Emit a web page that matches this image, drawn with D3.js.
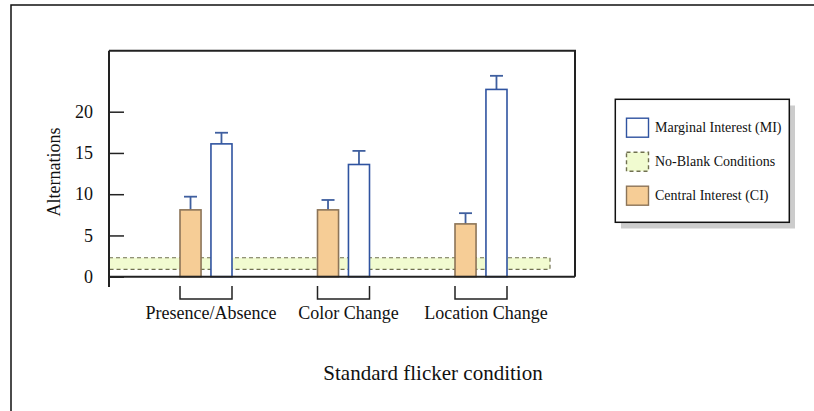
<!DOCTYPE html>
<html lang="en">
<head>
    <meta charset="UTF-8">
    <title>Alternations by flicker condition</title>
    <script src="https://d3js.org/d3.v7.min.js"></script>
    <style>
        body { margin: 0; background: #fff; }
        svg { display: block; }
        text { font-family: "Liberation Serif", "Times New Roman", serif; fill: #111; }
    </style>
</head>
<body>
    <div id="chart"></div>

    <script>
        // Data
        const categories = ["Presence/Absence", "Color Change", "Location Change"];
        const ciValues = [8.1, 8.1, 6.4];
        const ciErrors = [1.6, 1.2, 1.3];
        const miValues = [16.1, 13.6, 22.7];
        const miErrors = [1.35, 1.65, 1.65];
        const noBlankBand = [0.9, 2.3];
        const yTicks = [0, 5, 10, 15, 20];
        const legendLabels = ["Marginal Interest (MI)", "No-Blank Conditions", "Central Interest (CI)"];

        const width = 814, height = 411;

        const svg = d3.select("#chart")
            .append("svg")
            .attr("width", width)
            .attr("height", height);

        // outer border (runs off the page on the right / bottom)
        svg.append("rect")
            .attr("x", 11).attr("y", 5)
            .attr("width", 820).attr("height", 420)
            .attr("fill", "none")
            .attr("stroke", "#111")
            .attr("stroke-width", 1.5);

        // plot frame
        const plot = { left: 109, right: 575, top: 50.7, bottom: 276.7 };

        const y = d3.scaleLinear()
            .domain([0, 20])
            .range([plot.bottom, 111.7]);

        const x = d3.scalePoint()
            .domain(categories)
            .range([206, 481]);

        const inner = d3.scaleBand()
            .domain(["CI", "MI"])
            .range([-26, 26])
            .paddingInner(0.32);

        // no-blank band (behind bars)
        svg.append("rect")
            .attr("x", plot.left)
            .attr("y", y(noBlankBand[1]))
            .attr("width", 550 - plot.left)
            .attr("height", y(noBlankBand[0]) - y(noBlankBand[1]))
            .attr("fill", "#f1fbd0")
            .attr("stroke", "#707050")
            .attr("stroke-width", 1.2)
            .attr("stroke-dasharray", "4,3");

        // frame: top and right
        svg.append("path")
            .attr("d", `M${plot.left},${plot.top}H${plot.right}V${plot.bottom}`)
            .attr("fill", "none")
            .attr("stroke", "#222")
            .attr("stroke-width", 2);

        // y axis with inward ticks
        const yAxis = svg.append("g")
            .attr("transform", `translate(${plot.left},0)`)
            .call(d3.axisLeft(y).tickValues(yTicks).tickSizeInner(-15).tickSizeOuter(0).tickPadding(16));
        yAxis.select(".domain").remove();
        yAxis.selectAll(".tick line").attr("stroke", "#222").attr("stroke-width", 1.5);
        yAxis.selectAll(".tick text")
            .style("font-family", "'Liberation Serif', serif")
            .style("font-size", "18px")
            .attr("fill", "#111");

        svg.append("line")
            .attr("x1", plot.left).attr("x2", plot.left)
            .attr("y1", plot.top).attr("y2", 287)
            .attr("stroke", "#222").attr("stroke-width", 2);

        // series
        const series = [
            { key: "CI", values: ciValues, errors: ciErrors, fill: "#f6cd96", stroke: "#8c7458" },
            { key: "MI", values: miValues, errors: miErrors, fill: "#ffffff", stroke: "#2f53a0" }
        ];
        const errColor = "#3f5f9f";

        series.forEach(s => {
            const g = svg.append("g");
            const rows = categories.map((c, i) => ({ c, v: s.values[i], e: s.errors[i] }));

            // error bars
            g.selectAll("line.err")
                .data(rows)
                .join("line")
                .attr("class", "err")
                .attr("x1", d => x(d.c) + inner(s.key) + inner.bandwidth() / 2)
                .attr("x2", d => x(d.c) + inner(s.key) + inner.bandwidth() / 2)
                .attr("y1", d => y(d.v))
                .attr("y2", d => y(d.v + d.e))
                .attr("stroke", errColor).attr("stroke-width", 1.8);
            g.selectAll("line.cap")
                .data(rows)
                .join("line")
                .attr("class", "cap")
                .attr("x1", d => x(d.c) + inner(s.key) + inner.bandwidth() / 2 - 6.5)
                .attr("x2", d => x(d.c) + inner(s.key) + inner.bandwidth() / 2 + 6.5)
                .attr("y1", d => y(d.v + d.e))
                .attr("y2", d => y(d.v + d.e))
                .attr("stroke", errColor).attr("stroke-width", 1.8);

            g.selectAll("rect")
                .data(rows)
                .join("rect")
                .attr("x", d => x(d.c) + inner(s.key))
                .attr("y", d => y(d.v))
                .attr("width", inner.bandwidth())
                .attr("height", d => y(0) - y(d.v))
                .attr("fill", s.fill)
                .attr("stroke", s.stroke)
                .attr("stroke-width", 1.6);
        });

        // x axis line (bottom of frame)
        svg.append("line")
            .attr("x1", plot.left).attr("x2", plot.right)
            .attr("y1", plot.bottom).attr("y2", plot.bottom)
            .attr("stroke", "#222").attr("stroke-width", 2);

        // brackets under groups
        svg.selectAll("path.bracket")
            .data(categories)
            .join("path")
            .attr("class", "bracket")
            .attr("d", c => {
                const x0 = x(c) + inner("CI"), x1 = x(c) + inner("MI") + inner.bandwidth();
                return `M${x0},286V299H${x1}V286`;
            })
            .attr("fill", "none")
            .attr("stroke", "#222")
            .attr("stroke-width", 1.5);

        svg.selectAll("text.cat")
            .data(categories)
            .join("text")
            .attr("class", "cat")
            .attr("x", c => x(c) + 5)
            .attr("y", 319)
            .attr("text-anchor", "middle")
            .style("font-size", "18px")
            .text(c => c);

        // axis titles
        svg.append("text")
            .attr("transform", "translate(60,172) rotate(-90)")
            .attr("text-anchor", "middle")
            .style("font-size", "18px")
            .text("Alternations");

        svg.append("text")
            .attr("x", 433)
            .attr("y", 380)
            .attr("text-anchor", "middle")
            .style("font-size", "21px")
            .text("Standard flicker condition");

        // legend
        const legend = svg.append("g");
        legend.append("rect")
            .attr("x", 621).attr("y", 105.5)
            .attr("width", 174).attr("height", 123)
            .attr("fill", "#cccccc");
        legend.append("rect")
            .attr("x", 615.3).attr("y", 99.3)
            .attr("width", 174).attr("height", 123)
            .attr("fill", "#fff")
            .attr("stroke", "#111")
            .attr("stroke-width", 1.5);

        const swatches = [
            { fill: "#ffffff", stroke: "#2f53a0", dash: null },
            { fill: "#f1fbd0", stroke: "#707050", dash: "4,3" },
            { fill: "#f6cd96", stroke: "#8c7458", dash: null }
        ];
        const legendY = d3.scalePoint()
            .domain(legendLabels)
            .range([127.7, 195.7]);

        legendLabels.forEach((lab, i) => {
            legend.append("rect")
                .attr("x", 626.5).attr("y", legendY(lab) - 9.5)
                .attr("width", 22).attr("height", 19)
                .attr("fill", swatches[i].fill)
                .attr("stroke", swatches[i].stroke)
                .attr("stroke-width", 1.4)
                .attr("stroke-dasharray", swatches[i].dash);
            legend.append("text")
                .attr("x", 655)
                .attr("y", legendY(lab) + 4.5)
                .style("font-size", "14px")
                .text(lab);
        });
    </script>
</body>
</html>
